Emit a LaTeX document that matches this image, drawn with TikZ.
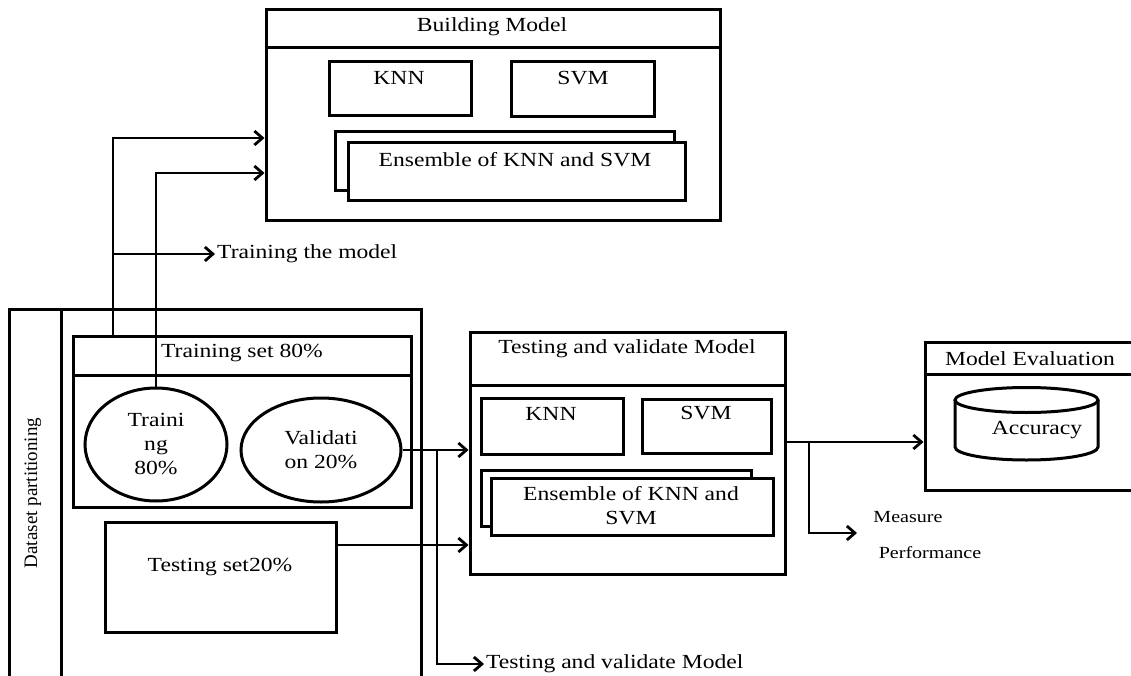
\documentclass[tikz,border=0pt]{standalone}
\usepackage{fontspec}
\setmainfont[FakeStretch=1.18]{Liberation Serif}
\newfontfamily\plainserif{Liberation Serif}
\usetikzlibrary{arrows.meta,shapes.geometric}

\begin{document}
\begin{tikzpicture}[x=1pt,y=1pt,
	box/.style={draw, line width=3pt, inner sep=0pt, fill=white},
	arr/.style={-{Straight Barb[length=8pt,width=14pt]}, line width=2.8pt},
	txt/.style={inner sep=2pt},
	font=\fontsize{20}{24}\selectfont]

			\useasboundingbox (0,0) rectangle (1131,-676);

			% building the model
			\node[box, minimum width=454, minimum height=211] (build) at (493,-115.5) {};
			\draw[line width=3pt] (266,-48) -- (720,-48);
			\node[txt] (buildT) at (492,-27) {Building Model};
			\node[box, minimum width=142, minimum height=54] (knnA) at (400,-89) {};
			\node[box, minimum width=143, minimum height=55] (svmA) at (582.5,-89.5) {};
			\node[txt] (knnAT) at (399,-78) {KNN};
			\node[txt] (svmAT) at (583,-78) {SVM};
			\node[box, minimum width=339, minimum height=59] (ensAb) at (504.5,-161.5) {};
			\node[box, minimum width=337, minimum height=58] (ensA) at (516.5,-172) {};
			\node[txt] (ensAT) at (515,-160) {Ensemble of KNN and SVM};

			% dataset partitioning
			\node[box, fill=none, minimum width=412, minimum height=391] (data) at (215,-504.5) {};
			\draw[line width=3pt] (61,-309) -- (61,-700);
			\node[rotate=90, font=\plainserif\fontsize{19}{22}\selectfont] (dataT) at (33,-493) {Dataset partitioning};

			\node[box, minimum width=338, minimum height=171] (trainset) at (242,-421.5) {};
			\draw[line width=3pt] (73,-375) -- (411,-375);
			\node[txt] (trainsetT) at (242,-353) {Training set 80\%};
			\node[box, ellipse, minimum width=142, minimum height=113, align=center] (trn) at (156,-444.5) {Traini\\ng\\80\%};
			\node[box, ellipse, minimum width=160, minimum height=104, align=center] (val) at (321,-450) {Validati\\on 20\%};

			\node[box, minimum width=231, minimum height=110] (tset) at (220.5,-577) {};
			\node[txt] (tsetT) at (220,-567) {Testing set20\%};

			% testing and validate
			\node[box, minimum width=315, minimum height=242] (test) at (627.5,-453) {};
			\draw[line width=3pt] (470,-385) -- (785,-385);
			\node[txt] (testT) at (627,-349) {Testing and validate Model};
			\node[box, minimum width=142, minimum height=56] (knnB) at (552,-426) {};
			\node[box, minimum width=129, minimum height=54] (svmB) at (706.5,-426) {};
			\node[txt] (knnBT) at (551,-414) {KNN};
			\node[txt] (svmBT) at (706,-413) {SVM};
			\node[box, minimum width=270, minimum height=56] (ensBb) at (616,-498) {};
			\node[box, minimum width=282, minimum height=57] (ensB) at (632,-506.5) {};
			\node[txt, align=center] (ensBT) at (631,-506) {Ensemble of KNN and\\SVM};

			% model evaluation
			\node[box, minimum width=220, minimum height=148] (eval) at (1035,-416) {};
			\draw[line width=3pt] (925,-374) -- (1131,-374);
			\node[txt] (evalT) at (1030,-359) {Model Evaluation};
			\draw[line width=3pt] (1026.5,-400) ellipse (71.5 and 12.5);
			\draw[line width=3pt] (955,-400) -- (955,-447) arc[start angle=180, end angle=360, x radius=71.5, y radius=13] -- (1098,-400);
			\node[txt] (acc) at (1037,-430) {Accuracy};

			% connectors
			\coordinate (up1) at (113,-138);
			\coordinate (up2) at (153,-173);
			\node[txt, anchor=west] (trainL) at (215,-254) {Training the model};
			\draw[arr] (trainset.north -| up1) -- (up1) -- (build.west |- up1);
			\draw[arr] (trn.north) |- (build.west |- up2);
			\draw[arr] (up1 |- trainL.west) -- (trainL.west);

			\coordinate (br1) at (437,-450);
			\coordinate (ts) at (336,-545);
			\node[txt, anchor=west] (testL) at (484,-664) {Testing and validate Model};
			\draw[arr] (val.east) -- (test.west |- val.east);
			\draw[arr] (br1) |- (testL.west);
			\draw[arr] (tset.east |- ts) -- (test.west |- ts);

			\coordinate (ev) at (809,-442);
			\coordinate (mp) at (857,-533);
			\node[txt, font=\fontsize{17}{20}\selectfont] (measL) at (908,-517) {Measure};
			\node[txt, font=\fontsize{17}{20}\selectfont] (perfL) at (930,-553) {Performance};
			\draw[arr] (test.east |- ev) -- (eval.west |- ev);
			\draw[arr] (ev) |- (mp);

		\end{tikzpicture}
\end{document}
